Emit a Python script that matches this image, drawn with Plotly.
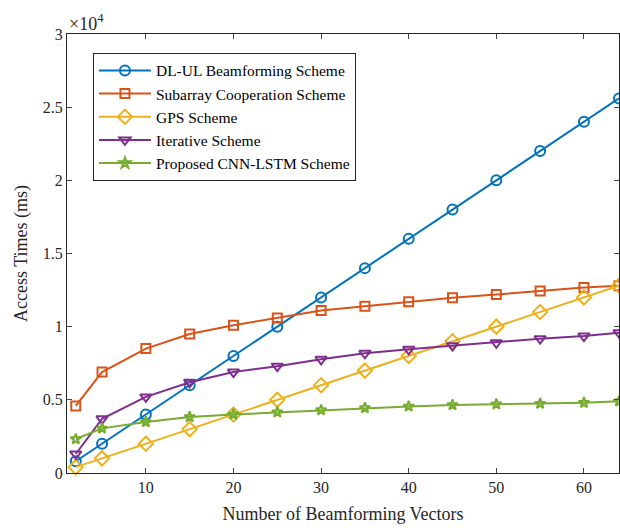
import plotly.graph_objects as go

x_vals = [2, 5, 10, 15, 20, 25, 30, 35, 40, 45, 50, 55, 60, 64]
dl_ul = [800, 2000, 4000, 6000, 8000, 10000, 12000, 14000, 16000, 18000, 20000, 22000, 24000, 25600]
subarray = [4580, 6900, 8500, 9500, 10100, 10600, 11100, 11400, 11700, 11980, 12200, 12440, 12670, 12800]
gps = [400, 1000, 2000, 3000, 4000, 5000, 6000, 7000, 8000, 9000, 10000, 11000, 12000, 12800]
iterative = [1300, 3700, 5200, 6200, 6900, 7300, 7770, 8180, 8450, 8700, 8900, 9180, 9360, 9590]
cnn_lstm = [2320, 3050, 3490, 3830, 4000, 4150, 4300, 4440, 4550, 4650, 4700, 4740, 4800, 4900]

names = ["DL-UL Beamforming Scheme", "Subarray Cooperation Scheme", "GPS Scheme",
         "Iterative Scheme", "Proposed CNN-LSTM Scheme"]
series = [dl_ul, subarray, gps, iterative, cnn_lstm]
colors = ["#0072BD", "#D95319", "#EDB120", "#7E2F8E", "#77AC30"]
symbols = ["circle-open", "square-open", "diamond-open", "triangle-down-open", "star-open"]
sizes = [10, 9, 11, 10, 8]

y_ticks = [0, 5000, 10000, 15000, 20000, 25000, 30000]
y_ticktext = ["0", "0.5", "1", "1.5", "2", "2.5", "3"]
x_ticks = [10, 20, 30, 40, 50, 60]

fig = go.Figure()
for name, ys, c, s, sz in zip(names, series, colors, symbols, sizes):
    fig.add_trace(go.Scatter(
        x=x_vals, y=ys, mode="lines+markers", name=name,
        line=dict(color=c, width=2),
        marker=dict(symbol=s, size=sz, color=c, line=dict(color=c, width=2)),
        cliponaxis=False,
    ))

font_family = "Liberation Serif"
fig.update_layout(
    width=620, height=530,
    margin=dict(l=67, r=1, t=34, b=57),
    paper_bgcolor="white", plot_bgcolor="white",
    font=dict(family=font_family, size=16, color="#262626"),
    showlegend=True,
    legend=dict(
        x=0.047, y=0.957, xanchor="left", yanchor="top",
        bgcolor="white", bordercolor="#262626", borderwidth=1,
        font=dict(family=font_family, size=15.5, color="#000000"),
        itemwidth=52, tracegroupgap=0,
    ),
    xaxis=dict(
        range=[1, 64], tickvals=x_ticks, ticks="inside", ticklen=5,
        showline=True, linecolor="#262626", linewidth=1, mirror="ticks",
        showgrid=False, zeroline=False,
        tickfont=dict(family=font_family, size=16, color="#262626"),
        title=dict(text="Number of Beamforming Vectors", standoff=12,
                   font=dict(family=font_family, size=18, color="#262626")),
    ),
    yaxis=dict(
        range=[0, 30000], tickvals=y_ticks, ticktext=y_ticktext,
        ticks="inside", ticklen=5,
        showline=True, linecolor="#262626", linewidth=1, mirror="ticks",
        showgrid=False, zeroline=False,
        tickfont=dict(family=font_family, size=16, color="#262626"),
        title=dict(text="Access Times (ms)", standoff=10,
                   font=dict(family=font_family, size=18, color="#262626")),
    ),
    annotations=[dict(
        text="×10<sup>4</sup>", xref="paper", yref="paper", x=0, y=1,
        xanchor="left", yanchor="bottom", showarrow=False, yshift=-2,
        font=dict(family=font_family, size=18, color="#262626"),
    )],
)

fig.write_html("out.html")
